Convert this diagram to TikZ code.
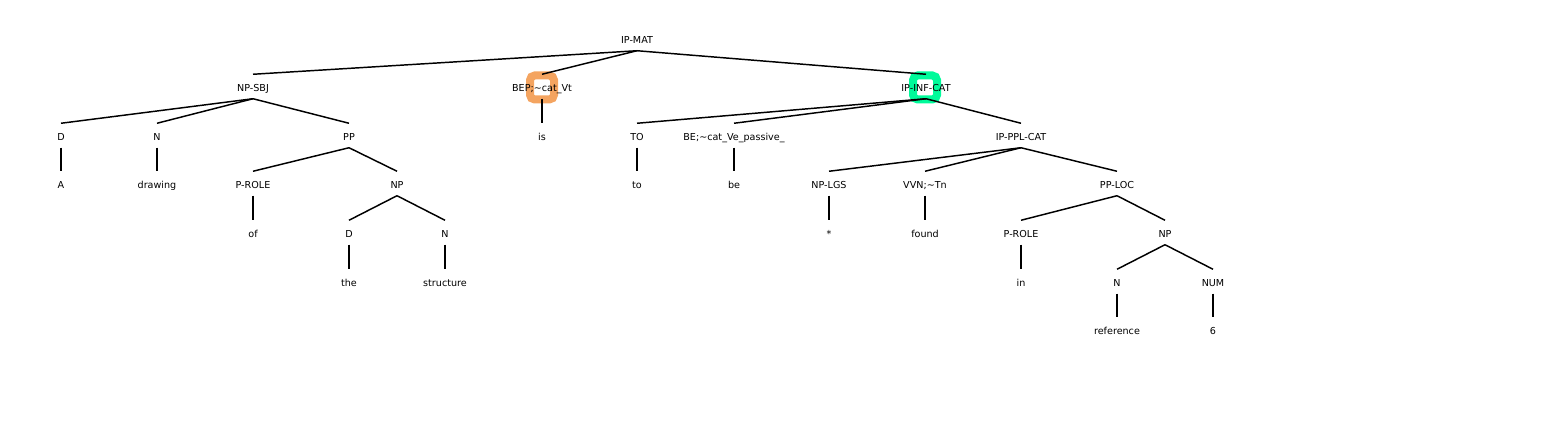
\documentclass[tikz,border=0pt]{standalone}
\usepackage{fontspec}
\setmainfont{DejaVu Sans}
\usepackage{tikz}

\definecolor{hlorange}{RGB}{244,164,96}
\definecolor{hlgreen}{RGB}{0,250,154}

\begin{document}
\begin{tikzpicture}[x=0.75pt, y=-0.75pt, line width=1.1pt,
    every node/.style={anchor=base, inner sep=0pt, text height=12.3pt,
    text depth=4.95pt, font=\fontsize{7.2}{8}\selectfont}]

  \tikzstyle{mark ring}=[line width=6pt, rounded corners=3.5pt]

  \useasboundingbox (0,0) rectangle (1560,427);

  % highlighted nodes
  \draw[mark ring, hlorange] (530,75.5) rectangle (554,99.5);
  \draw[mark ring, hlgreen]  (913,75.5) rectangle (937,99.5);

  \node (IPMAT)  at (637,43.4)  {IP-MAT};

  \node (NPSBJ)  at (253,91.4)  {NP-SBJ};
  \node (BEP)    at (542,91.4)  {BEP;\textasciitilde cat\_Vt};
  \node (IPINF)  at (926,91.4)  {IP-INF-CAT};

  \node (D1)     at (61,140.4)  {D};
  \node (N1)     at (157,140.4) {N};
  \node (PP)     at (349,140.4) {PP};
  \node (IS)     at (542,140.4) {is};
  \node (TO)     at (637,140.4) {TO};
  \node (BE)     at (734,140.4) {BE;\textasciitilde cat\_Ve\_passive\_};
  \node (IPPPL)  at (1021,140.4) {IP-PPL-CAT};

  \node (A)      at (61,188.4)  {A};
  \node (DRAW)   at (157,188.4) {drawing};
  \node (PROLE1) at (253,188.4) {P-ROLE};
  \node (NP1)    at (397,188.4) {NP};
  \node (TOW)    at (637,188.4) {to};
  \node (BEW)    at (734,188.4) {be};
  \node (NPLGS)  at (829,188.4) {NP-LGS};
  \node (VVN)    at (925,188.4) {VVN;\textasciitilde Tn};
  \node (PPLOC)  at (1117,188.4) {PP-LOC};

  \node (OF)     at (253,237.4) {of};
  \node (D2)     at (349,237.4) {D};
  \node (N2)     at (445,237.4) {N};
  \node (STAR)   at (829,237.4) {*};
  \node (FOUND)  at (925,237.4) {found};
  \node (PROLE2) at (1021,237.4) {P-ROLE};
  \node (NP2)    at (1165,237.4) {NP};

  \node (THE)    at (349,286.4) {the};
  \node (STRUC)  at (445,286.4) {structure};
  \node (IN)     at (1021,286.4) {in};
  \node (N3)     at (1117,286.4) {N};
  \node (NUM)    at (1213,286.4) {NUM};

  \node (REF)    at (1117,334.4) {reference};
  \node (SIX)    at (1213,334.4) {6};

  \path
  (IPMAT.south) edge (NPSBJ.north)
  edge (BEP.north)
  edge (IPINF.north)

  (NPSBJ.south) edge (D1.north)
  edge (N1.north)
  edge (PP.north)

  (BEP.south) edge (IS.north)

  (IPINF.south) edge (TO.north)
  edge (BE.north)
  edge (IPPPL.north)

  (D1.south) edge (A.north)
  (N1.south) edge (DRAW.north)
  (PP.south) edge (PROLE1.north)
  edge (NP1.north)
  (TO.south) edge (TOW.north)
  (BE.south) edge (BEW.north)

  (IPPPL.south) edge (NPLGS.north)
  edge (VVN.north)
  edge (PPLOC.north)

  (PROLE1.south) edge (OF.north)
  (NP1.south) edge (D2.north)
  edge (N2.north)
  (NPLGS.south) edge (STAR.north)
  (VVN.south) edge (FOUND.north)
  (PPLOC.south) edge (PROLE2.north)
  edge (NP2.north)

  (D2.south) edge (THE.north)
  (N2.south) edge (STRUC.north)
  (PROLE2.south) edge (IN.north)
  (NP2.south) edge (N3.north)
  edge (NUM.north)

  (N3.south) edge (REF.north)
  (NUM.south) edge (SIX.north);
\end{tikzpicture}
\end{document}
